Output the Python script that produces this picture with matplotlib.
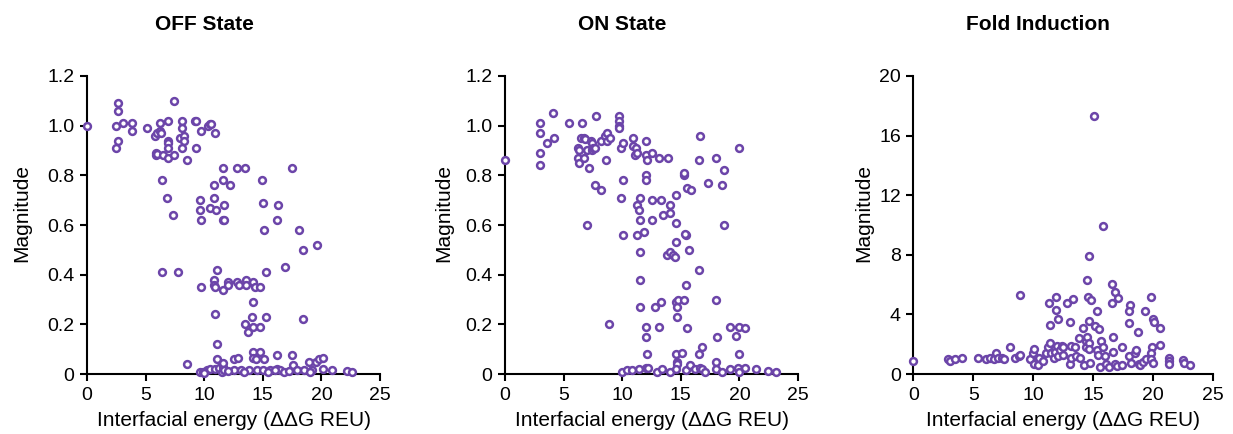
import matplotlib
matplotlib.use('Agg')
import matplotlib.pyplot as plt

plt.rcParams['font.family'] = ['Liberation Sans', 'DejaVu Sans']

# OFF state
off_x = [0, 2.65, 2.65, 2.5, 3.1, 2.65, 2.5, 3.8, 3.8, 5.1, 5.8, 6.0, 6.2, 6.3, 6.2, 5.9, 5.9, 6.0,
         6.5, 6.9, 6.9, 6.9, 6.9, 6.9, 7.4, 7.4, 8.1, 8.1, 7.9, 8.3, 8.3, 8.1, 8.5, 9.2, 9.3, 9.3,
         9.7, 10.3, 10.5, 10.6, 10.9, 6.4, 6.8, 7.3, 6.4, 7.8, 8.5, 9.6, 9.6, 9.7, 9.7, 10.8, 10.8,
         10.5, 11.0, 11.6, 11.6, 11.7, 11.6, 11.7, 12.2, 12.8, 13.5, 11.1, 10.8, 10.8, 10.9, 11.6,
         12.0, 12.0, 12.8, 13.0, 13.6, 13.6, 14.2, 14.3, 14.8, 14.2, 14.1, 13.5, 13.7, 14.2, 14.8,
         15.3, 10.9, 11.1, 14.9, 15.0, 15.1, 15.3, 16.3, 16.2, 16.9, 17.5, 18.1, 18.4, 18.4, 19.6,
         9.6, 9.9, 10.2, 10.5, 10.9, 11.1, 11.3, 11.5, 11.6, 11.6, 11.7, 12.5, 12.9, 12.5, 13.1,
         13.8, 14.5, 15.0, 14.2, 14.8, 14.2, 14.4, 15.1, 16.2, 15.6, 16.2, 16.5, 16.8, 17.5, 17.6,
         17.9, 18.5, 18.9, 19.5, 19.8, 20.1, 20.1, 20.9, 22.2, 22.6, 15.4, 16.0, 17.2, 19.2, 13.4,
         12.0, 10.0, 19.0]
off_y = [1.00, 1.09, 1.06, 1.00, 1.01, 0.94, 0.91, 1.01, 0.98, 0.99, 0.96, 0.97, 0.98, 0.97, 1.01,
         0.89, 0.88, 0.885, 0.88, 1.02, 0.94, 0.93, 0.91, 0.87, 0.88, 1.10, 1.02, 0.99, 0.95, 0.96,
         0.94, 0.91, 0.86, 1.02, 1.02, 0.91, 0.98, 1.00, 1.005, 1.005, 0.97, 0.78, 0.71, 0.64, 0.41,
         0.41, 0.04, 0.70, 0.66, 0.62, 0.35, 0.76, 0.71, 0.67, 0.66, 0.83, 0.78, 0.68, 0.62, 0.62,
         0.76, 0.83, 0.83, 0.42, 0.38, 0.36, 0.35, 0.34, 0.37, 0.36, 0.37, 0.36, 0.38, 0.36, 0.37,
         0.35, 0.35, 0.29, 0.23, 0.20, 0.17, 0.19, 0.19, 0.23, 0.24, 0.12, 0.78, 0.69, 0.58, 0.41,
         0.68, 0.62, 0.43, 0.83, 0.58, 0.50, 0.22, 0.52,
         0.01, 0.01, 0.015, 0.02, 0.02, 0.06, 0.025, 0.01, 0.03, 0.045, 0.015, 0.06, 0.065, 0.015,
         0.015, 0.015, 0.015, 0.015, 0.09, 0.09, 0.065, 0.06, 0.06, 0.075, 0.015, 0.02, 0.015, 0.01,
         0.075, 0.035, 0.015, 0.015, 0.05, 0.05, 0.06, 0.065, 0.02, 0.015, 0.012, 0.008, 0.01,
         0.015, 0.012, 0.015, 0.01, 0.012, 0.005, 0.01]

# ON state
on_x = [0, 3.0, 3.0, 3.0, 3.0, 3.55, 4.1, 4.2, 5.45, 6.2, 6.3, 6.2, 6.3, 6.6, 6.5, 6.7, 6.8, 6.7,
        7.0, 7.2, 7.0, 7.3, 7.4, 7.4, 7.5, 7.7, 7.8, 7.7, 8.2, 8.2, 8.5, 8.7, 8.7, 8.95, 8.6, 8.9,
        9.75, 9.75, 9.75, 9.75, 9.9, 10.1, 9.9, 10.1, 10.1, 10.9, 10.9, 11.1, 11.2, 11.3, 11.3,
        11.4, 11.5, 11.5, 11.3, 11.5, 11.5, 11.5, 11.9, 12.0, 12.0, 12.1, 12.0, 12.0, 12.5, 12.5,
        12.55, 12.0, 12.0, 12.1, 12.8, 13.1, 13.15, 13.3, 13.3, 13.5, 13.9, 14.1, 14.1, 13.8, 14.1,
        14.35, 14.5, 14.6, 14.6, 14.6, 14.6, 14.7, 14.75, 14.7, 14.6, 14.7, 14.7, 15.1, 15.3, 15.3,
        15.4, 15.35, 15.4, 15.3, 15.5, 15.9, 15.7, 15.5, 16.6, 16.55, 16.55, 16.55, 16.8, 17.3,
        18.0, 18.0, 18.1, 18.0, 18.5, 18.7, 18.7, 20.0, 19.2, 20.0, 20.45, 19.7, 20.0,
        10.0, 10.4, 10.8, 11.4, 12.0, 12.2, 13.0, 13.4, 14.1, 14.6, 15.4, 15.8, 16.2, 16.6, 16.8,
        17.1, 18.0, 18.5, 19.2, 19.9, 20.0, 20.45, 21.4, 22.4, 23.1]
on_y = [0.86, 1.01, 0.97, 0.89, 0.84, 0.93, 1.05, 0.95, 1.01, 0.91, 0.90, 0.87, 0.85, 1.01, 0.95,
        0.95, 0.945, 0.87, 0.60, 0.83, 0.90, 0.94, 0.93, 0.90, 0.91, 0.91, 1.04, 0.76, 0.74, 0.94,
        0.96, 0.97, 0.94, 0.95, 0.86, 0.20, 1.04, 1.02, 1.00, 0.99, 0.91, 0.93, 0.71, 0.78, 0.56,
        0.95, 0.92, 0.88, 0.91, 0.89, 0.68, 0.66, 0.71, 0.62, 0.56, 0.49, 0.38, 0.27, 0.57, 0.94,
        0.88, 0.86, 0.80, 0.78, 0.89, 0.70, 0.62, 0.19, 0.15, 0.08, 0.27, 0.19, 0.87, 0.70, 0.29,
        0.64, 0.87, 0.68, 0.65, 0.48, 0.49, 0.48, 0.47, 0.72, 0.61, 0.53, 0.29, 0.27, 0.30, 0.23,
        0.08, 0.05, 0.04, 0.085, 0.80, 0.81, 0.56, 0.565, 0.36, 0.30, 0.75, 0.74, 0.50, 0.185, 0.96,
        0.86, 0.42, 0.08, 0.11, 0.77, 0.87, 0.30, 0.15, 0.05, 0.76, 0.82, 0.60, 0.91, 0.19, 0.19,
        0.185, 0.155, 0.08,
        0.01, 0.015, 0.015, 0.02, 0.025, 0.025, 0.01, 0.02, 0.01, 0.02, 0.015, 0.035, 0.02, 0.025,
        0.02, 0.01, 0.02, 0.01, 0.02, 0.025, 0.01, 0.025, 0.02, 0.012, 0.008]

# fold induction
fold_x = [0, 2.9, 3.1, 3.5, 4.1, 5.4, 6.1, 6.4, 6.7, 6.9, 7.1, 7.4, 7.6, 8.1, 8.5, 8.8, 8.9, 8.9,
          9.7, 10.0, 10.05, 10.1, 10.4, 10.5, 10.8, 11.1, 11.25, 11.4, 11.5, 11.7, 11.8, 12.0, 12.1,
          12.25, 12.4, 12.5, 12.5, 11.3, 11.4, 11.9, 11.9, 12.1, 12.8, 13.3, 13.1, 13.05, 13.2, 13.5,
          13.2, 13.6, 13.9, 13.8, 14.2, 14.25, 14.4, 14.45, 14.5, 14.5, 14.6, 14.8, 14.7, 14.7, 14.7,
          14.7, 14.75, 15.1, 15.2, 15.3, 15.5, 15.3, 15.45, 15.6, 15.7, 15.8, 15.8, 16.0, 16.1, 16.3,
          16.6, 16.6, 16.8, 17.1, 16.7, 16.7, 16.8, 17.0, 17.4, 17.4, 18.1, 18.0, 18.0, 18.0, 18.2,
          18.5, 18.8, 18.6, 18.9, 19.2, 19.4, 18.75, 19.3, 19.8, 20.0, 20.05, 20.55, 20.55, 19.9,
          19.8, 19.8, 20.0, 21.3, 21.3, 21.3, 22.5, 22.6, 23.1]
fold_y = [0.9, 1.0, 0.9, 1.0, 1.05, 1.1, 1.0, 1.05, 1.0, 1.4, 1.1, 1.05, 1.0, 1.85, 1.1, 1.2, 1.25,
          5.3, 1.0, 1.4, 1.7, 0.7, 0.6, 1.1, 0.9, 1.4, 1.85, 2.1, 1.4, 1.1, 1.5, 1.9, 1.2, 1.6, 1.9,
          1.8, 1.3, 4.8, 3.3, 5.2, 4.3, 3.7, 4.8, 5.05, 3.5, 0.7, 1.9, 1.85, 1.1, 1.2, 1.1, 2.45, 3.1,
          0.6, 1.85, 2.2, 2.5, 6.3, 5.2, 5.0, 7.95, 3.55, 2.1, 1.7, 0.75, 17.3, 3.2, 4.25, 3.0, 1.6,
          1.3, 0.5, 2.25, 9.95, 1.85, 1.2, 0.7, 0.5, 6.05, 4.8, 5.5, 5.1, 2.5, 1.45, 0.7, 0.55, 0.6,
          1.85, 4.65, 4.25, 3.4, 1.2, 0.75, 1.4, 0.7, 1.6, 0.6, 0.8, 1.0, 2.8, 4.25, 5.2, 3.7, 3.5,
          3.1, 1.95, 1.85, 1.4, 1.0, 0.75, 1.1, 0.9, 0.7, 0.95, 0.75, 0.6]

purple = '#6c45a9'
W, H = 1233, 434

fig = plt.figure(figsize=(W / 100, H / 100), dpi=100)
panels = [
    ('OFF State', off_x, off_y, [0.0706, 0.138, 0.2376, 0.687], 1.2,
     [0, 0.2, 0.4, 0.6, 0.8, 1.0, 1.2], 204, -0.19),
    ('ON State', on_x, on_y, [0.4096, 0.138, 0.2376, 0.687], 1.2,
     [0, 0.2, 0.4, 0.6, 0.8, 1.0, 1.2], 622, -0.177),
    ('Fold Induction', fold_x, fold_y, [0.7407, 0.138, 0.2430, 0.687], 20,
     [0, 4, 8, 12, 16, 20], 1038, -0.133),
]

for title, xs, ys, pos, ymax, yt, tx, ylx in panels:
    ax = fig.add_axes(pos)
    ax.scatter(xs, ys, s=24, facecolors='white', edgecolors=purple, linewidths=1.8,
               clip_on=False, zorder=3)
    ax.set_xlim(0, 25)
    ax.set_ylim(0, ymax)
    ax.set_xticks([0, 5, 10, 15, 20, 25])
    ax.set_yticks(yt)
    if ymax < 2:
        ax.set_yticklabels(['0'] + ['%.1f' % v for v in yt[1:]])
    for s in ['top', 'right']:
        ax.spines[s].set_visible(False)
    for s in ['left', 'bottom']:
        ax.spines[s].set_linewidth(1.5)
    ax.tick_params(width=1.5, length=5, labelsize=14, pad=4)
    ax.set_xlabel('Interfacial energy (ΔΔG REU)', fontsize=15)
    ax.xaxis.set_label_coords(0.5, -0.125)
    ax.set_ylabel('Magnitude', fontsize=15)
    ax.yaxis.set_label_coords(ylx, 0.54)
    fig.text(tx / W, 1 - 24 / H, title, fontsize=15, fontweight='bold', ha='center', va='center')

fig.savefig('out.png', dpi=100)
